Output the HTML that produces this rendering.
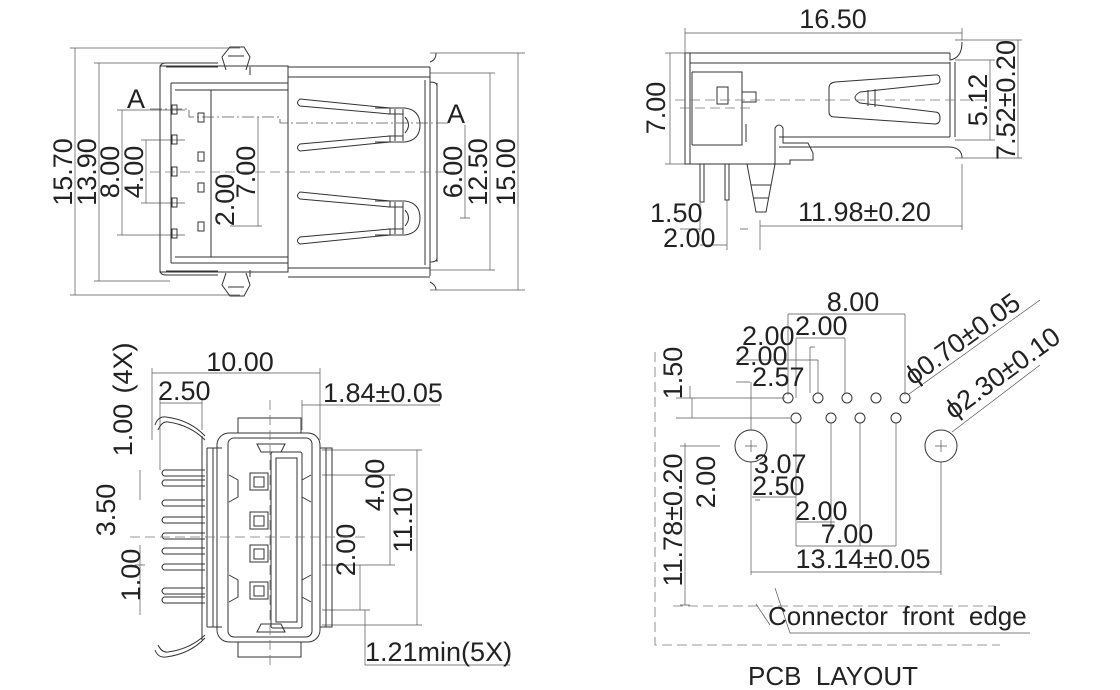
<!DOCTYPE html>
<html><head><meta charset="utf-8"><style>
html,body{margin:0;padding:0;background:#fff;}
svg{display:block;}
text{font-family:"Liberation Sans",Arial,sans-serif;font-size:27px;fill:#222;}
.l{stroke:#333;stroke-width:1;fill:none;}
.t{stroke:#555;stroke-width:0.7;fill:none;}
.d{stroke:#777;stroke-width:0.8;fill:none;stroke-dasharray:10,5;}
.dd{stroke:#555;stroke-width:0.8;fill:none;stroke-dasharray:12,3,2,3;}
</style></head><body>
<svg width="1120" height="690" viewBox="0 0 1120 690" xmlns="http://www.w3.org/2000/svg">

<!-- ============ TOP LEFT VIEW ============ -->
<g>
<path class="t" d="M75 48V295 M70 48H240 M70 295H240 M99 63V281 M94 63H170 M94 281H170 M122 110V235 M117 110H185 M117 235H185 M146 140V203 M141 140H185 M141 203H185 M258 117V226 M250 226H262 M230 226H258 M465 125V218 M460 218H470 M490 73V270 M485 73H495 M485 270H495 M518 53V290 M430 53H525 M430 290H525 M430 270H495 M430 73H495"/>
<text transform="translate(75,172) rotate(-90)" text-anchor="middle" dy="-3">15.70</text>
<text transform="translate(99,172) rotate(-90)" text-anchor="middle" dy="-3">13.90</text>
<text transform="translate(122,172) rotate(-90)" text-anchor="middle" dy="-3">8.00</text>
<text transform="translate(146,172) rotate(-90)" text-anchor="middle" dy="-3">4.00</text>
<text transform="translate(258,172) rotate(-90)" text-anchor="middle" dy="-3">7.00</text>
<text transform="translate(234,200) rotate(-90)" text-anchor="middle" dy="0">2.00</text>
<text transform="translate(465,172) rotate(-90)" text-anchor="middle" dy="-3">6.00</text>
<text transform="translate(490,172) rotate(-90)" text-anchor="middle" dy="-3">12.50</text>
<text transform="translate(518,172) rotate(-90)" text-anchor="middle" dy="-3">15.00</text>
<text x="127" y="108">A</text>
<text x="447" y="123">A</text>
<path class="l" d="M160 68Q160 63 166 63H218 M160 68V270Q160 275 166 275H218 M166 67H218 M166 271H218 M171 83H288 M171 263H288 M171 83V263 M175 90H288 M175 257H288 M211 90V257"/>
<path class="l" d="M160 66H288V272H160Z"/>
<path class="l" d="M288 67H430 M288 277H430 M288 77H430 M288 268H430 M250 67V75 M250 270V277"/>
<path class="l" d="M226 70L222 57L230 47H244L250 57L246 70 M226 273L222 285L230 296H244L250 285L246 273"/>
<path class="l" d="M228 56H244 M228 287H244"/>
<path class="l" d="M430 67V276 M425 80V265 M437 83V262 M430 62Q436 60 436 53 M430 82Q437 82 437 86 M430 262Q437 262 437 258 M430 282Q436 285 436 290"/>
<!-- springs -->
<g class="l">
<path d="M300 99L390 108V114L300 106Q295 103 300 99Z"/>
<path d="M300 151L390 142V136L300 144Q295 148 300 151Z"/>
<path d="M375 108H405Q420 110 420 125Q420 140 405 142H375 M395 109V141 M403 109V141 M388 114H403 M388 136H403 M405 117Q412 125 405 133"/>
<path d="M300 192L390 201V207L300 199Q295 196 300 192Z"/>
<path d="M300 244L390 235V229L300 237Q295 241 300 244Z"/>
<path d="M375 201H405Q420 203 420 218Q420 233 405 235H375 M395 202V234 M403 202V234 M388 207H403 M388 229H403 M405 210Q412 218 405 226"/>
</g>
<g class="l">
<rect x="172" y="105" width="5" height="9"/><rect x="172" y="135" width="5" height="9"/><rect x="172" y="167" width="5" height="9"/><rect x="172" y="198" width="5" height="9"/><rect x="172" y="229" width="5" height="9"/>
<rect x="198" y="113" width="6" height="9"/><rect x="198" y="152" width="6" height="9"/><rect x="198" y="183" width="6" height="9"/><rect x="198" y="222" width="6" height="9"/>
</g>
<path class="dd" d="M150 109H189V117H280V123H450"/>
<path class="d" d="M150 172H455"/>
</g>

<!-- ============ TOP RIGHT VIEW ============ -->
<g>
<path class="t" d="M685 33H962 M685 28V53 M962 28V40 M665 53H690 M665 164H690 M670 53V164 M955 40H1022 M955 60H995 M955 140H995 M955 158H1022 M990 60V140 M1018 40V158 M760 226H962 M962 164V230 M760 220V250 M700 203V232 M727 200V250 M680 229H700 M700 245H727 M740 229H748"/>
<text x="833" y="28" text-anchor="middle">16.50</text>
<text transform="translate(668,108) rotate(-90)" text-anchor="middle" dy="-3">7.00</text>
<text transform="translate(990,100) rotate(-90)" text-anchor="middle" dy="-3">5.12</text>
<text transform="translate(1018,100) rotate(-90)" text-anchor="middle" dy="-3">7.52±0.20</text>
<text x="650" y="222">1.50</text>
<text x="663" y="247">2.00</text>
<text x="798" y="221">11.98±0.20</text>
<path class="l" d="M685 53H950 M690 63H950 M685 53V164H748 M690 53V164 M692 72V145 M692 72H742V145H692 M779 137H950 M779 147H950"/>
<path class="l" d="M950 53V60Q962 58 962 42 M950 62V137 M955 62V137 M950 147Q962 148 962 158"/>
<rect class="l" x="717" y="87" width="11" height="17"/>
<rect class="l" x="742" y="92" width="14" height="10"/>
<path class="l" d="M746 124V142"/>
<path class="l" d="M775 164V128Q779 122 783 128V143H808L813 153V160H790V164 Z"/>
<path class="l" d="M700 164V202H704V164 M725 164V200H729V164"/>
<path class="l" d="M747 164L756 212H766L775 164Z M751 185H771 M754 198H768"/>
<!-- spring -->
<path class="l" d="M935 75L835 82Q829 83 829 88V112Q829 117 835 117L935 124Q940 124 940 118Q940 112 935 112L860 103Q850 98 860 92L935 84Q940 84 940 80Q940 74 935 75Z M868 90V106 M875 89V107"/>
<path class="d" d="M675 100H990 M680 108H750"/>
</g>

<!-- ============ BOTTOM LEFT VIEW ============ -->
<g>
<path class="t" d="M152 373H320 M152 368V440 M320 368V440 M160 403H202 M160 398V470 M202 398V430 M302 405H440 M302 400V430 M417 450V625 M322 450H422 M322 625H422 M390 475V565 M322 475H395 M322 565H395 M360 565V610 M322 610H370 M365 610V665H510 M140 470V500 M135 565H145 M140 545V615"/>
<text x="240" y="371" text-anchor="middle">10.00</text>
<text x="158" y="400">2.50</text>
<text x="323" y="402">1.84±0.05</text>
<text transform="translate(135,368) rotate(-90)" text-anchor="middle" dy="-3">(4X)</text>
<text transform="translate(135,430) rotate(-90)" text-anchor="middle" dy="-3">1.00</text>
<text transform="translate(118,510) rotate(-90)" text-anchor="middle" dy="-3">3.50</text>
<text transform="translate(143,575) rotate(-90)" text-anchor="middle" dy="-3">1.00</text>
<text transform="translate(384,485) rotate(-90)" text-anchor="middle" dy="0">4.00</text>
<text transform="translate(415,520) rotate(-90)" text-anchor="middle" dy="-3">11.10</text>
<text transform="translate(355,550) rotate(-90)" text-anchor="middle" dy="0">2.00</text>
<text x="365" y="661">1.21min(5X)</text>
<path class="l" d="M155 425Q158 416 166 417Q190 420 205 436 M158 430Q162 421 168 422Q190 425 205 440 M155 650Q158 658 166 657Q190 654 205 638 M158 645Q162 653 168 652Q190 649 205 635"/>
<g class="l">
<path d="M205 470H164Q160 473 164 476H205"/><path d="M205 480H164Q160 483 164 486H205"/>
<path d="M205 500H164Q160 503 164 506H205"/><path d="M205 517H164Q160 520 164 523H205"/>
<path d="M205 533H164Q160 536 164 539H205"/><path d="M205 548H164Q160 551 164 554H205"/>
<path d="M205 564H164Q160 567 164 570H205"/><path d="M205 588H164Q160 591 164 594H205"/>
<path d="M205 597H164Q160 600 164 603H205"/>
</g>
<path class="l" d="M202 436V640 M207 448V627 M213 448V627 M207 448H222 M207 627H222"/>
<rect class="l" x="217" y="433" width="103" height="209" rx="12"/>
<rect class="l" x="228" y="438" width="84" height="199" rx="6"/>
<rect class="l" x="238" y="418" width="63" height="15"/>
<rect class="l" x="238" y="642" width="63" height="15"/>
<path class="l" d="M320 448H332V627H320 M326 448V627 M257 444H285L281 452H261Z M257 632H285L281 624H261Z"/>
<rect class="l" x="271" y="452" width="31" height="176" rx="2"/>
<rect class="l" x="276" y="458" width="21" height="164"/>
<g class="l">
<rect x="250" y="473" width="18" height="17"/><rect x="254" y="477" width="10" height="10"/>
<rect x="250" y="512" width="18" height="17"/><rect x="254" y="516" width="10" height="10"/>
<rect x="250" y="545" width="18" height="17"/><rect x="254" y="549" width="10" height="10"/>
<rect x="250" y="582" width="18" height="17"/><rect x="254" y="586" width="10" height="10"/>
<path d="M229 475L238 480V497L229 502 M311 475L302 480V497L311 502 M229 575L238 580V597L229 602 M311 575L302 580V597L311 602"/>
</g>
<path class="d" d="M130 537H370 M270 400V665"/>
</g>

<!-- ============ PCB LAYOUT ============ -->
<g>
<path class="d" d="M655 352V645H1000 M673 606H995"/>
<path class="t" d="M788 314H905 M788 314V395 M905 314V395 M796 338V398 M796 338H845 M845 338V393 M810 347H815 M810 347V393 M736 360H818 M818 360V393 M736 382H750 M751 382V430 M676 398H785 M676 418H790 M690 386V398 M692 398V418 M685 443V605 M680 446H720 M796 423V546 M831 423V530 M860 423V546 M896 423V546 M796 546H896 M760 500H755 M751 462V575 M941 462V575 M751 572H941 M752 497H796 M797 522H835 M775 588L790 633H1030 M680 605H690 M756 604L770 625"/>
<g class="l">
<circle cx="788" cy="398" r="5"/><circle cx="818" cy="398" r="5"/><circle cx="847" cy="398" r="5"/><circle cx="876" cy="398" r="5"/><circle cx="905" cy="398" r="5"/>
<circle cx="796" cy="418" r="5"/><circle cx="831" cy="418" r="5"/><circle cx="860" cy="418" r="5"/><circle cx="896" cy="418" r="5"/>
<circle cx="751" cy="446" r="16"/><circle cx="941" cy="446" r="16"/>
</g>
<path class="t" d="M909 394L1040 300 M952 432L1040 365 M745 446H757 M751 440V452 M935 446H947 M941 440V452"/>
<text x="853" y="311" text-anchor="middle">8.00</text>
<text x="742" y="345">2.00</text>
<text x="795" y="335">2.00</text>
<text x="735" y="365">2.00</text>
<text x="752" y="386">2.57</text>
<text x="754" y="473">3.07</text>
<text x="752" y="495">2.50</text>
<text x="795" y="520">2.00</text>
<text x="847" y="543" text-anchor="middle">7.00</text>
<text x="863" y="568" text-anchor="middle">13.14±0.05</text>
<text transform="translate(685,520) rotate(-90)" text-anchor="middle" dy="-3">11.78±0.20</text>
<text transform="translate(707,482) rotate(-90)" text-anchor="middle" dy="8">2.00</text>
<text transform="translate(685,373) rotate(-90)" text-anchor="middle" dy="-3">1.50</text>
<text transform="translate(913,386) rotate(-36)">ϕ0.70±0.05</text>
<text transform="translate(953,420) rotate(-36)">ϕ2.30±0.10</text>
<text x="768" y="625" style="font-size:26px">Connector&#160; front&#160; edge</text>
<text x="748" y="685" style="font-size:26px">PCB&#160; LAYOUT</text>
</g>
</svg>
</body></html>
